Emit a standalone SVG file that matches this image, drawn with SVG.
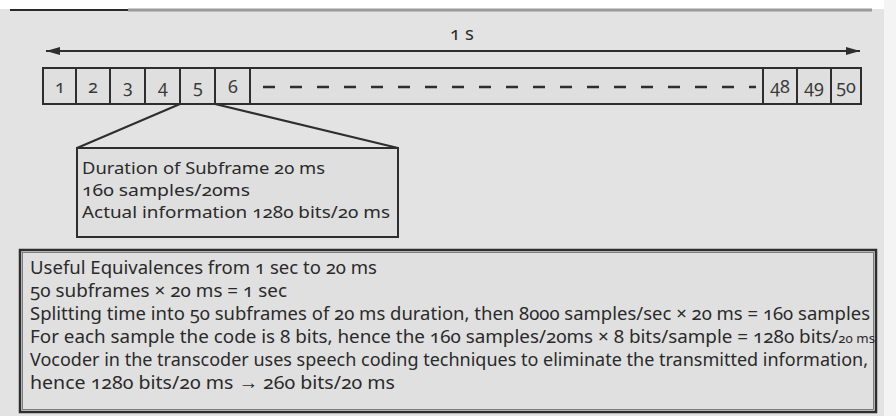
<svg xmlns="http://www.w3.org/2000/svg" width="896" height="416" viewBox="0 0 896 416">
<style>
  .ln{stroke:#2e2e2e;stroke-width:2;fill:none}
  .cell{stroke:#2e2e2e;stroke-width:2;fill:#dfdfdf}
  .t{font-family:"Noto Sans","Liberation Sans",sans-serif;font-size:18.5px;fill:#2a2a2a;font-variant-numeric:oldstyle-nums}
  .c{font-size:17px}
  .n{font-family:"Noto Sans","Liberation Sans",sans-serif;font-size:18px;fill:#3a3a3a;text-anchor:middle;font-variant-numeric:oldstyle-nums}
</style>
<defs>
  <marker id="ah" viewBox="0 0 14 8" refX="14" refY="4" markerWidth="14" markerHeight="8" markerUnits="userSpaceOnUse" orient="auto-start-reverse">
    <path d="M0,0 L14,4 L0,8 Z" fill="#2e2e2e"/>
  </marker>
</defs>
<rect x="0" y="0" width="896" height="416" fill="#e3e3e3"/>
<rect x="0" y="0" width="896" height="9" fill="#ffffff"/>
<rect x="884" y="0" width="12" height="416" fill="#f4f4f4"/>
<line x1="128" y1="10" x2="872" y2="10" stroke="#9a9a9a" stroke-width="3"/>
<line x1="10" y1="10" x2="128" y2="10" stroke="#2a2a2a" stroke-width="2"/>

<g id="connectors">
  <line class="ln" x1="46" y1="51" x2="860" y2="51" stroke-width="2.2" marker-start="url(#ah)" marker-end="url(#ah)"/>
  <line class="ln" x1="180" y1="104" x2="77" y2="148"/>
  <line class="ln" x1="215" y1="104" x2="398" y2="148"/>
</g>

<g id="timescale-label">
  <text class="t" x="450" y="40" font-size="17">1 s</text>
</g>

<g id="frame">
  <rect class="cell" x="43" y="68" width="818" height="36"/>
  <g id="cell-1"><rect class="cell" x="43" y="68" width="33" height="36"/><text class="n" x="60" y="93">1</text></g>
  <g id="cell-2"><rect class="cell" x="76" y="68" width="34" height="36"/><text class="n" x="93" y="93">2</text></g>
  <g id="cell-3"><rect class="cell" x="110" y="68" width="35" height="36"/><text class="n" x="128" y="93">3</text></g>
  <g id="cell-4"><rect class="cell" x="145" y="68" width="35" height="36"/><text class="n" x="163" y="93">4</text></g>
  <g id="cell-5"><rect class="cell" x="180" y="68" width="35" height="36"/><text class="n" x="198" y="93">5</text></g>
  <g id="cell-6"><rect class="cell" x="215" y="68" width="35" height="36"/><text class="n" x="233" y="93">6</text></g>
  <line x1="263" y1="87" x2="756" y2="87" stroke="#2e2e2e" stroke-width="2.5" stroke-dasharray="12 15"/>
  <g id="cell-48"><rect class="cell" x="763" y="68" width="34" height="36"/><text class="n" x="780" y="93">48</text></g>
  <g id="cell-49"><rect class="cell" x="797" y="68" width="34" height="36"/><text class="n" x="814" y="93">49</text></g>
  <g id="cell-50"><rect class="cell" x="831" y="68" width="30" height="36"/><text class="n" x="846" y="93" font-size="16">50</text></g>
</g>

<g id="subframe-box">
  <rect class="cell" x="77" y="148" width="321" height="89"/>
  <text class="t c" x="82" y="174" textLength="243" lengthAdjust="spacingAndGlyphs">Duration of Subframe 20 ms</text>
  <text class="t c" x="82" y="196" textLength="168" lengthAdjust="spacingAndGlyphs">160 samples/20ms</text>
  <text class="t c" x="82" y="218" textLength="308" lengthAdjust="spacingAndGlyphs">Actual information 1280 bits/20 ms</text>
</g>

<g id="equivalences-box">
  <rect x="20" y="250" width="856" height="162" fill="#e0e0e0" stroke="#2e2e2e" stroke-width="2.5"/>
  <rect x="22.5" y="252.5" width="851" height="157" fill="none" stroke="#666" stroke-width="0.8"/>
  <text class="t" x="30" y="274" textLength="347" lengthAdjust="spacingAndGlyphs">Useful Equivalences from 1 sec to 20 ms</text>
  <text class="t" x="30" y="297" textLength="257" lengthAdjust="spacingAndGlyphs">50 subframes × 20 ms = 1 sec</text>
  <text class="t" x="30" y="320" textLength="840" lengthAdjust="spacingAndGlyphs">Splitting time into 50 subframes of 20 ms duration, then 8000 samples/sec × 20 ms = 160 samples</text>
  <text class="t" x="30" y="343" textLength="845" lengthAdjust="spacingAndGlyphs">For each sample the code is 8 bits, hence the 160 samples/20ms × 8 bits/sample = 1280 bits/<tspan font-size="13">20 ms</tspan></text>
  <text class="t" x="30" y="366" textLength="838" lengthAdjust="spacingAndGlyphs">Vocoder in the transcoder uses speech coding techniques to eliminate the transmitted information,</text>
  <text class="t" x="30" y="389" textLength="365" lengthAdjust="spacingAndGlyphs">hence 1280 bits/20 ms → 260 bits/20 ms</text>
</g>
</svg>
